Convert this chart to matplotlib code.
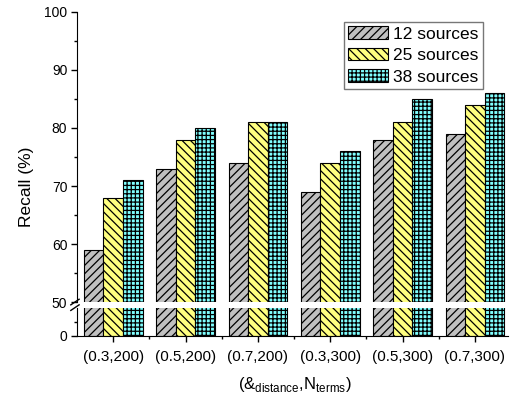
import matplotlib
matplotlib.use("Agg")
import matplotlib.pyplot as plt
import numpy as np

plt.rcParams["font.family"] = ["Liberation Sans", "DejaVu Sans"]
plt.rcParams["hatch.linewidth"] = 0.9

# data
groups = ["(0.3,200)", "(0.5,200)", "(0.7,200)", "(0.3,300)", "(0.5,300)", "(0.7,300)"]
src12 = [59, 73, 74, 69, 78, 79]
src25 = [68, 78, 81, 74, 81, 84]
src38 = [71, 80, 81, 76, 85, 86]
labels = ["12 sources", "25 sources", "38 sources"]

colors = ["#c0c0c0", "#ffff80", "#80ffff"]
hatches = ["////", "\\\\\\\\", "++++"]

fig = plt.figure(figsize=(5.17, 3.99), dpi=100)
ax_top = fig.add_axes([0.149, 0.243, 0.834, 0.727])
ax_bot = fig.add_axes([0.149, 0.158, 0.834, 0.070])

x = np.arange(len(groups))
w = 0.27
for ax in (ax_top, ax_bot):
    for i, vals in enumerate([src12, src25, src38]):
        ax.bar(x + (i - 1) * w, vals, w, color=colors[i], hatch=hatches[i],
               edgecolor="black", linewidth=0.8, label=labels[i])
    ax.set_xlim(-0.5, 5.46)
    for s in ["top", "right"]:
        ax.spines[s].set_visible(False)
    ax.tick_params(axis="both", direction="out", labelsize=10, length=4, width=1, pad=3)
    ax.tick_params(which="minor", direction="out", length=2.2, width=1)

ax_top.set_ylim(50, 100)
ax_top.set_yticks([50, 60, 70, 80, 90, 100])
ax_top.set_yticks([55, 65, 75, 85, 95], minor=True)
ax_top.spines["bottom"].set_visible(False)
ax_top.tick_params(axis="x", bottom=False, labelbottom=False)

ax_bot.set_ylim(0, 50)
ax_bot.set_yticks([0])
ax_bot.set_yticks([25], minor=True)
ax_bot.set_xticks(x)
ax_bot.set_xticks(x[:-1] + 0.5, minor=True)
ax_bot.set_xticklabels(groups, fontsize=11)
ax_bot.tick_params(axis="x", which="major", pad=6)
ax_bot.tick_params(axis="x", which="minor", length=2.2)

fig.text(27 / 517, 1 - 187 / 399, "Recall (%)", rotation=90, fontsize=12.5,
         ha="center", va="center")
fig.text(295 / 517, 1 - 384 / 399,
         r"(&$_{\mathregular{distance}}$,N$_{\mathregular{terms}}$)",
         fontsize=12, ha="center", va="center")

# break marks on the left spine
kw = dict(transform=fig.transFigure, color="black", lw=1, clip_on=False)
fig.add_artist(plt.Line2D([0.149 - 0.012, 0.149 + 0.004], [0.236, 0.250], **kw))
fig.add_artist(plt.Line2D([0.149 - 0.012, 0.149 + 0.004], [0.222, 0.236], **kw))

leg = ax_top.legend(loc="upper right", bbox_to_anchor=(0.942, 0.966), fontsize=12.5,
                    frameon=True, fancybox=False, edgecolor="#555555",
                    handlelength=2.3, handleheight=0.75, borderpad=0.25,
                    labelspacing=0.35, handletextpad=0.3, borderaxespad=0)
leg.get_frame().set_linewidth(1)

fig.savefig("out.png", dpi=100)
